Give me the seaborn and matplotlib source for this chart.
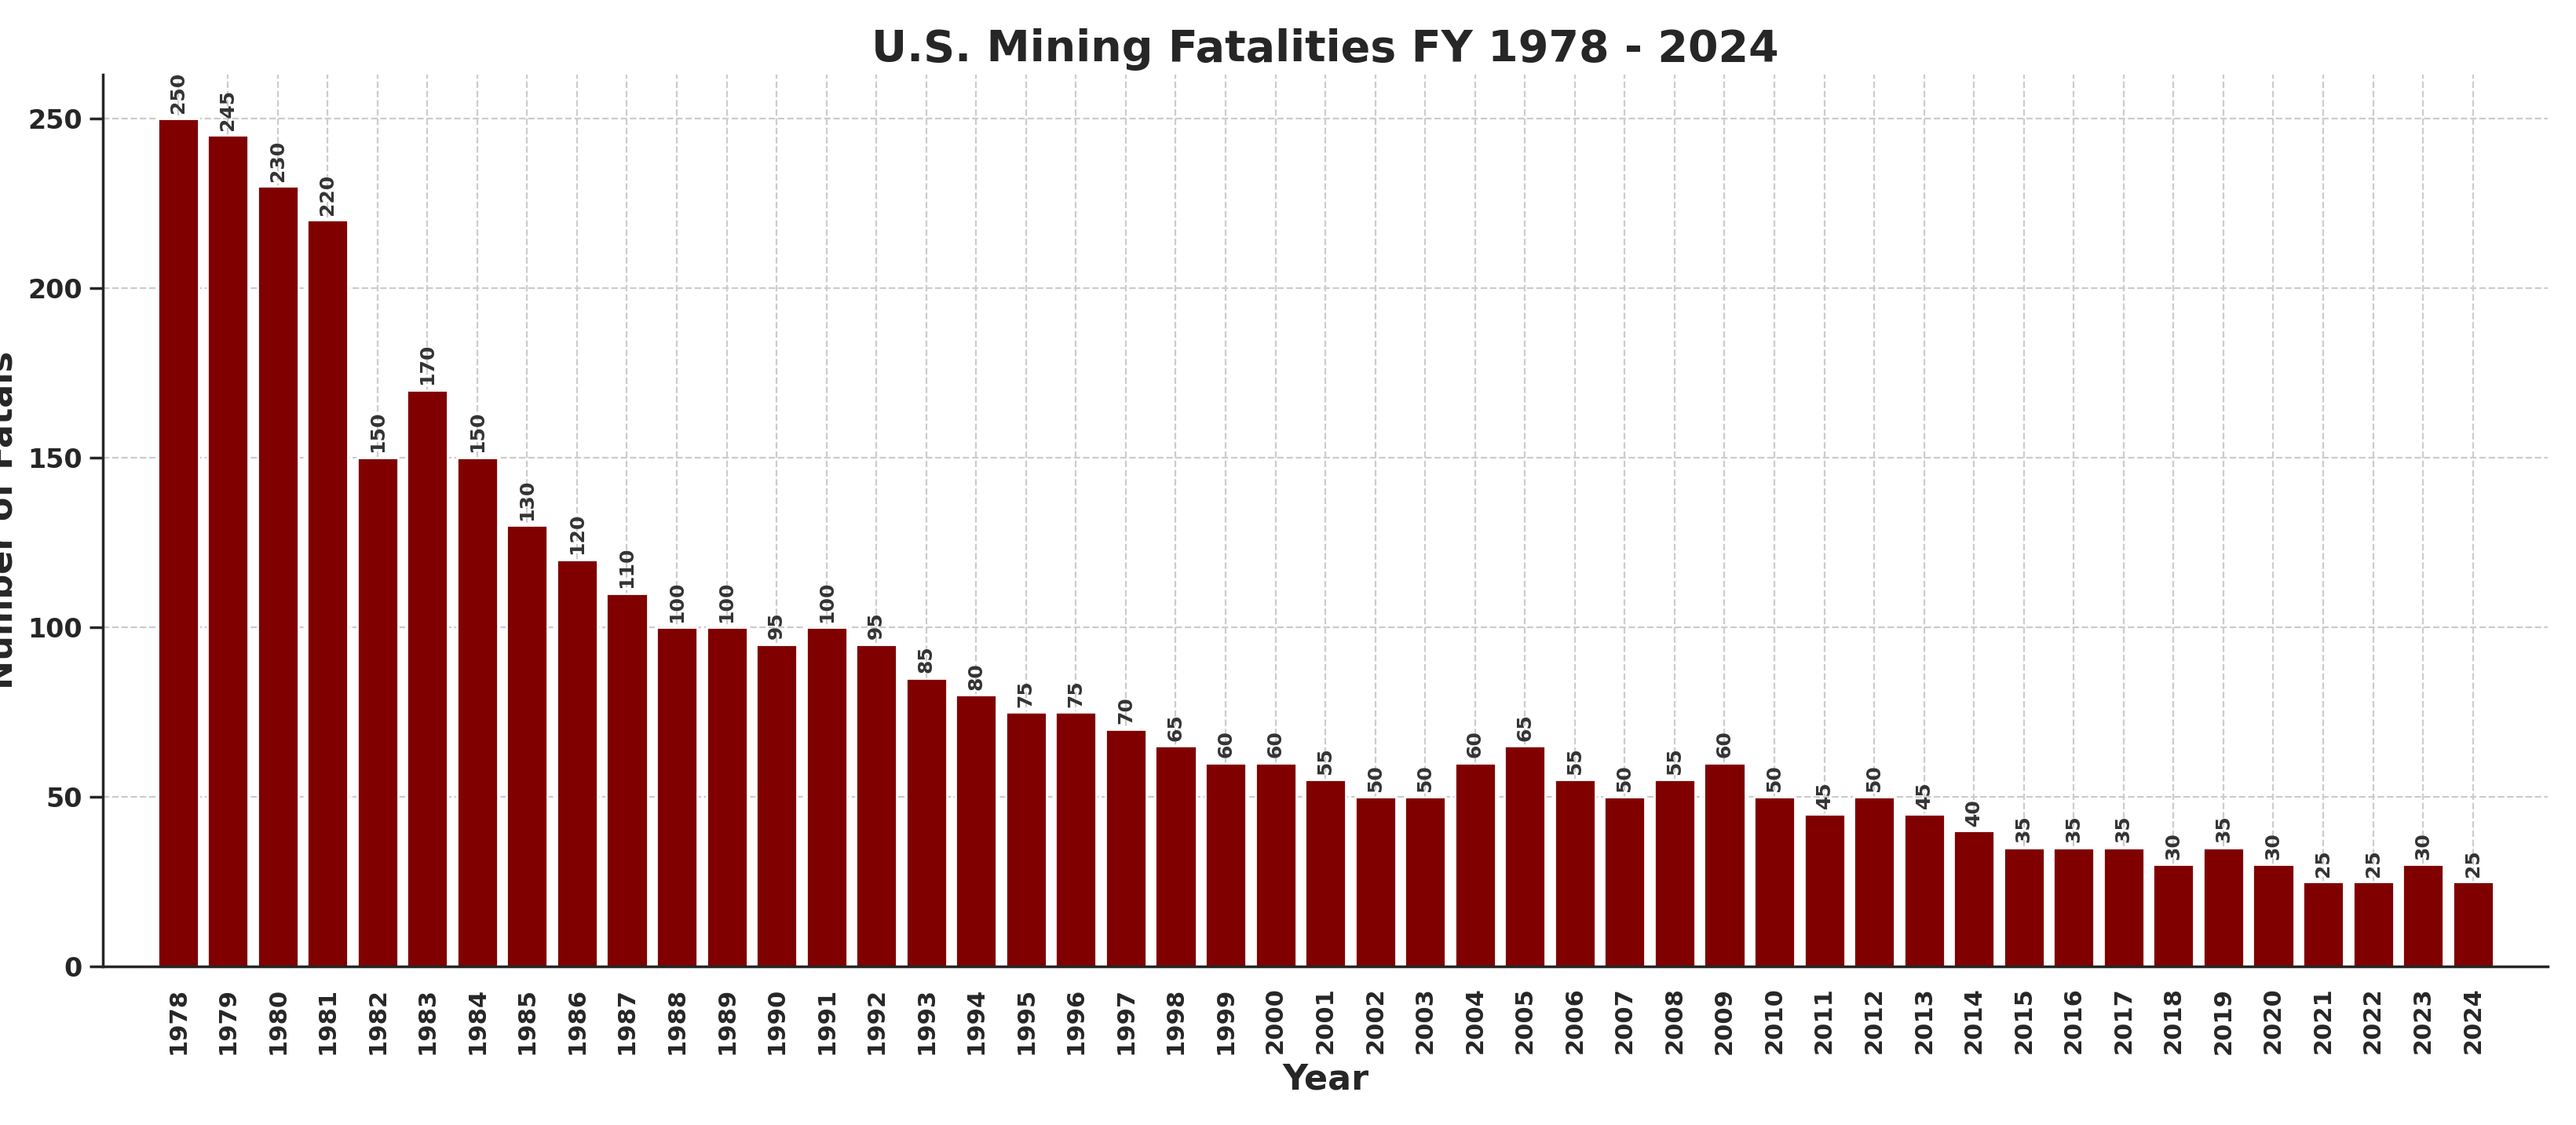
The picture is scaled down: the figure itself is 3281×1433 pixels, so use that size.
import matplotlib
matplotlib.use("Agg")
import matplotlib.pyplot as plt
import seaborn as sns
import pandas as pd

years = list(range(1978, 2025))
fatals = [250, 245, 230, 220, 150, 170, 150, 130, 120, 110,
          100, 100, 95, 100, 95, 85, 80, 75, 75, 70,
          65, 60, 60, 55, 50, 50, 60, 65, 55, 50,
          55, 60, 50, 45, 50, 45, 40, 35, 35, 35,
          30, 35, 30, 25, 25, 30, 25]

df = pd.DataFrame({"Year": [str(y) for y in years], "Fatals": fatals})

sns.set_theme(style="white")
fig, ax = plt.subplots(figsize=(16.405, 7.165), dpi=200)
sns.barplot(data=df, x="Year", y="Fatals", color="#800000", saturation=1, width=0.82, ax=ax)
ax.set_axisbelow(True)
ax.xaxis.grid(True, linestyle="--", color="#cccccc", linewidth=0.8)
ax.yaxis.grid(True, linestyle="--", color="#cccccc", linewidth=0.8)

for i, v in enumerate(fatals):
    ax.text(i, v + 1.5, str(v), rotation=90, ha="center", va="bottom",
            fontsize=9, fontweight="bold", color="#333333")

ax.set_xlim(-1.5, len(years) + 0.5)
ax.set_ylim(0, 263)
ax.set_yticks([0, 50, 100, 150, 200, 250])
ax.tick_params(axis="x", rotation=90, labelsize=11)
ax.tick_params(axis="y", labelsize=12, left=True)
for lab in ax.get_xticklabels() + ax.get_yticklabels():
    lab.set_fontweight("bold")
ax.set_xlabel("Year", fontsize=16, fontweight="bold")
ax.set_ylabel("Number of Fatals", fontsize=16, fontweight="bold")
ax.set_title("U.S. Mining Fatalities FY 1978 - 2024", fontsize=20, fontweight="bold")
sns.despine(ax=ax)
plt.tight_layout()
plt.subplots_adjust(left=0.04)
plt.savefig("out.png", dpi=200)
